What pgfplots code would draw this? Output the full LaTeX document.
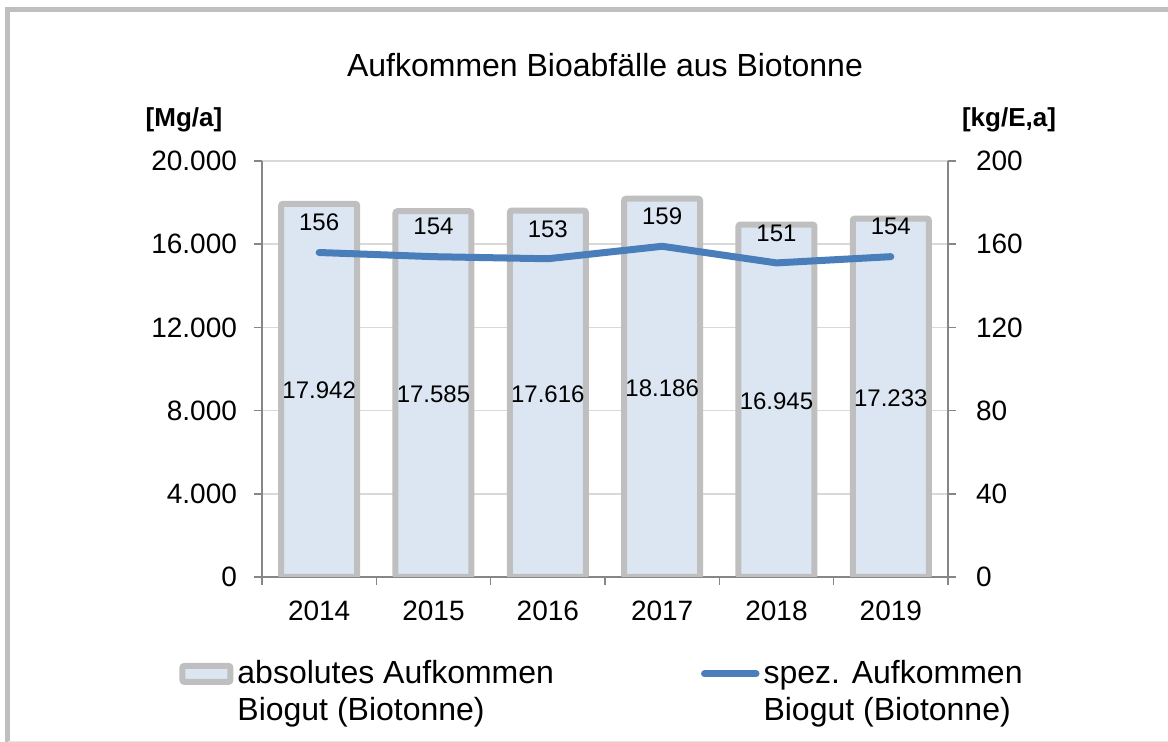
\documentclass[border=0pt]{standalone}
\usepackage{fontspec}
\setmainfont{Liberation Sans}
\usepackage{pgfplots}
\pgfplotsset{compat=1.18}
\usepackage{pgfplotstable}

\definecolor{barfill}{HTML}{DCE6F2}
\definecolor{barline}{HTML}{BFBFBF}
\definecolor{lineblue}{HTML}{4A7EBB}
\definecolor{axgray}{HTML}{868686}
\definecolor{gridgray}{HTML}{D9D9D9}

\pgfplotstableread{
x year abs spez
0 2014 17942 156
1 2015 17585 154
2 2016 17616 153
3 2017 18186 159
4 2018 16945 151
5 2019 17233 154
}\data

\pgfplotsset{myaxis/.style={
  scale only axis, width=343pt, height=208pt,
  at={(131pt,82.5pt)}, anchor=south west,
  xmin=-0.5, xmax=5.5,
  axis line style={axgray, line width=0.75pt},
  tick style={axgray, line width=0.75pt},
  tick align=outside, major tick length=4pt, minor tick length=4pt,
  /pgf/number format/assume math mode=true,
  ticklabel style={font=\fontsize{14}{16}\selectfont},
  scaled y ticks=false,
}}

\begin{document}
\begin{tikzpicture}
\useasboundingbox (0,0) rectangle (584pt,371pt);
\draw[barline, line width=2.5pt] (3.75pt,0) -- (3.75pt,366.25pt) -- (584pt,366.25pt);
\draw[black!10, line width=0.5pt] (3.75pt,0.25pt) -- (584pt,0.25pt);

\begin{axis}[myaxis,
  ymin=0, ymax=20000, ytick={0,4000,...,20000},
  yticklabel style={/pgf/number format/fixed, /pgf/number format/1000 sep={.}, xshift=-5pt},
  xticklabel style={yshift=-4.5pt},
  axis y line*=left, axis x line*=bottom,
  xtick={0,...,5}, xticklabels={2014,2015,2016,2017,2018,2019},
  minor xtick={-0.5,0.5,...,5.5},
  major x tick style={draw=none},
  ymajorgrids, grid style={gridgray, line width=0.75pt},
  title={Aufkommen Bioabfälle aus Biotonne},
  title style={font=\fontsize{16}{18}\selectfont, at={(0.5,1)}, yshift=32.5pt},
]
\addplot[ybar, bar width=38pt, fill=barfill, draw=barline, line width=3pt, rounded corners=1pt]
  table[x=x,y=abs]{\data};
\addplot[draw=none, mark=none, point meta=\thisrow{abs},
  nodes near coords={\pgfmathprintnumber[fixed,precision=0,1000 sep={.}]{\pgfplotspointmeta}},
  nodes near coords style={anchor=center, black, font=\fontsize{12}{14}\selectfont}]
  table[x=x, y expr=\thisrow{abs}/2]{\data};
\end{axis}

\begin{axis}[myaxis,
  ymin=0, ymax=200, ytick={0,40,...,200},
  yticklabel style={xshift=6.5pt},
  axis y line*=right, axis x line=none,
  legend columns=2,
  legend style={draw=none, fill=none, at={(-0.1297,-0.18)}, anchor=north west,
    font=\fontsize{16}{18.5}\selectfont, cells={align=left},
    /tikz/every even column/.append style={column sep=71.5pt}},
]
\addlegendimage{legend image code/.code={\draw[fill=barfill, draw=barline, line width=3pt, rounded corners=1pt] (0pt,5pt) rectangle (24pt,13pt);}}
\addlegendentry{absolutes Aufkommen\\Biogut (Biotonne)}
\addlegendimage{legend image code/.code={\draw[lineblue, line width=3.5pt, line cap=round] (1.75pt,9pt) -- (27.5pt,9pt);}}
\addlegendentry{spez. Aufkommen\\Biogut (Biotonne)}
\addplot[lineblue, line width=3.5pt, line cap=round, line join=round, forget plot,
  nodes near coords, point meta=explicit,
  nodes near coords style={black, anchor=center, yshift=15pt, font=\fontsize{12}{14}\selectfont}]
  table[x=x,y=spez, meta=spez]{\data};
\end{axis}

\node[font=\bfseries\fontsize{13}{15}\selectfont] at (92pt,311pt) {[Mg/a]};
\node[font=\bfseries\fontsize{13}{15}\selectfont] at (504.5pt,311pt) {[kg/E,a]};
\end{tikzpicture}
\end{document}
